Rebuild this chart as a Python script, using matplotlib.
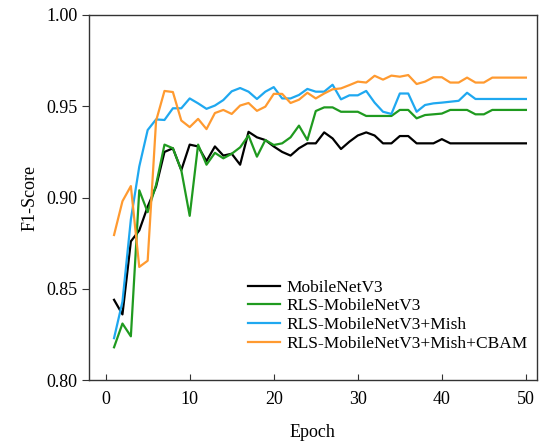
import numpy as np
import matplotlib.pyplot as plt

plt.rcParams['font.family'] = ['Liberation Serif', 'DejaVu Serif']

epochs = np.arange(1, 51)

mobilenet = [0.844, 0.836, 0.876, 0.882, 0.895, 0.906, 0.925, 0.927, 0.915, 0.929,
             0.928, 0.920, 0.928, 0.923, 0.924, 0.918, 0.936, 0.933, 0.9315, 0.928,
             0.925, 0.923, 0.927, 0.9297, 0.9297, 0.9357, 0.9324, 0.9266, 0.9306, 0.934,
             0.9357, 0.934, 0.9297, 0.9297, 0.9337, 0.9337, 0.9297, 0.9297, 0.9297, 0.932,
             0.9297, 0.9297, 0.9297, 0.9297, 0.9297, 0.9297, 0.9297, 0.9297, 0.9297, 0.9297]

rls = [0.818, 0.831, 0.824, 0.904, 0.892, 0.907, 0.929, 0.927, 0.915, 0.890,
       0.929, 0.918, 0.9245, 0.9215, 0.924, 0.9275, 0.934, 0.9224, 0.9315, 0.9288,
       0.9297, 0.933, 0.9394, 0.9315, 0.9474, 0.9494, 0.9494, 0.947, 0.947, 0.947,
       0.9447, 0.9447, 0.9447, 0.9447, 0.948, 0.948, 0.9434, 0.9452, 0.9456, 0.946,
       0.948, 0.948, 0.948, 0.9456, 0.9456, 0.948, 0.948, 0.948, 0.948, 0.948]

rls_mish = [0.823, 0.843, 0.888, 0.917, 0.937, 0.9428, 0.9425, 0.9489, 0.9489, 0.9543,
            0.9516, 0.9486, 0.9504, 0.9534, 0.9582, 0.960, 0.958, 0.954, 0.958, 0.9605,
            0.9543, 0.9543, 0.9562, 0.9595, 0.958, 0.958, 0.9618, 0.9538, 0.956, 0.956,
            0.9584, 0.952, 0.947, 0.9458, 0.957, 0.957, 0.947, 0.9507, 0.9516, 0.952,
            0.9525, 0.953, 0.9574, 0.954, 0.954, 0.954, 0.954, 0.954, 0.954, 0.954]

rls_mish_cbam = [0.8795, 0.898, 0.9063, 0.862, 0.8654, 0.942, 0.9584, 0.9578, 0.9422, 0.9386,
                 0.9431, 0.9375, 0.9463, 0.948, 0.9458, 0.9504, 0.9518, 0.9475, 0.9498, 0.9568,
                 0.9568, 0.9518, 0.9536, 0.9574, 0.9543, 0.957, 0.9593, 0.9598, 0.9616, 0.9635,
                 0.963, 0.9667, 0.9646, 0.9668, 0.9662, 0.9671, 0.9622, 0.9635, 0.9659, 0.9659,
                 0.963, 0.963, 0.9657, 0.963, 0.963, 0.9657, 0.9657, 0.9657, 0.9657, 0.9657]

labels = ['MobileNetV3', 'RLS-MobileNetV3', 'RLS-MobileNetV3+Mish', 'RLS-MobileNetV3+Mish+CBAM']
colors = ['black', '#1f9a1f', '#1fa8f0', '#ff9a30']

fig = plt.figure(figsize=(5.45, 4.41), dpi=100)
ax = fig.add_axes([0.163, 0.138, 0.822, 0.828])

for series, lab, col in zip([mobilenet, rls, rls_mish, rls_mish_cbam], labels, colors):
    ax.plot(epochs, series, color=col, lw=1.6, label=lab)

ax.set_xlim(-2, 51.3)
ax.set_ylim(0.80, 1.00)
ax.set_xticks([0, 10, 20, 30, 40, 50])
ax.set_yticks([0.80, 0.85, 0.90, 0.95, 1.00])
ax.set_yticklabels(['0.80', '0.85', '0.90', '0.95', '1.00'])
ax.tick_params(axis='x', direction='in', length=4, labelsize=13, pad=8, color='#333333')
ax.tick_params(axis='y', direction='out', length=5, labelsize=13, pad=3, color='#333333')
for s in ax.spines.values():
    s.set_color('#333333')
    s.set_linewidth(1.0)

ax.set_xlabel('Epoch', fontsize=13, labelpad=11)
ax.set_ylabel('F1-Score', fontsize=13, labelpad=6)

ax.legend(loc='lower right', bbox_to_anchor=(1.007, 0.044), frameon=False, fontsize=12.5,
          handlelength=1.8, handletextpad=0.4, labelspacing=0.15, borderaxespad=0.3)

fig.savefig('out.png', dpi=100)
